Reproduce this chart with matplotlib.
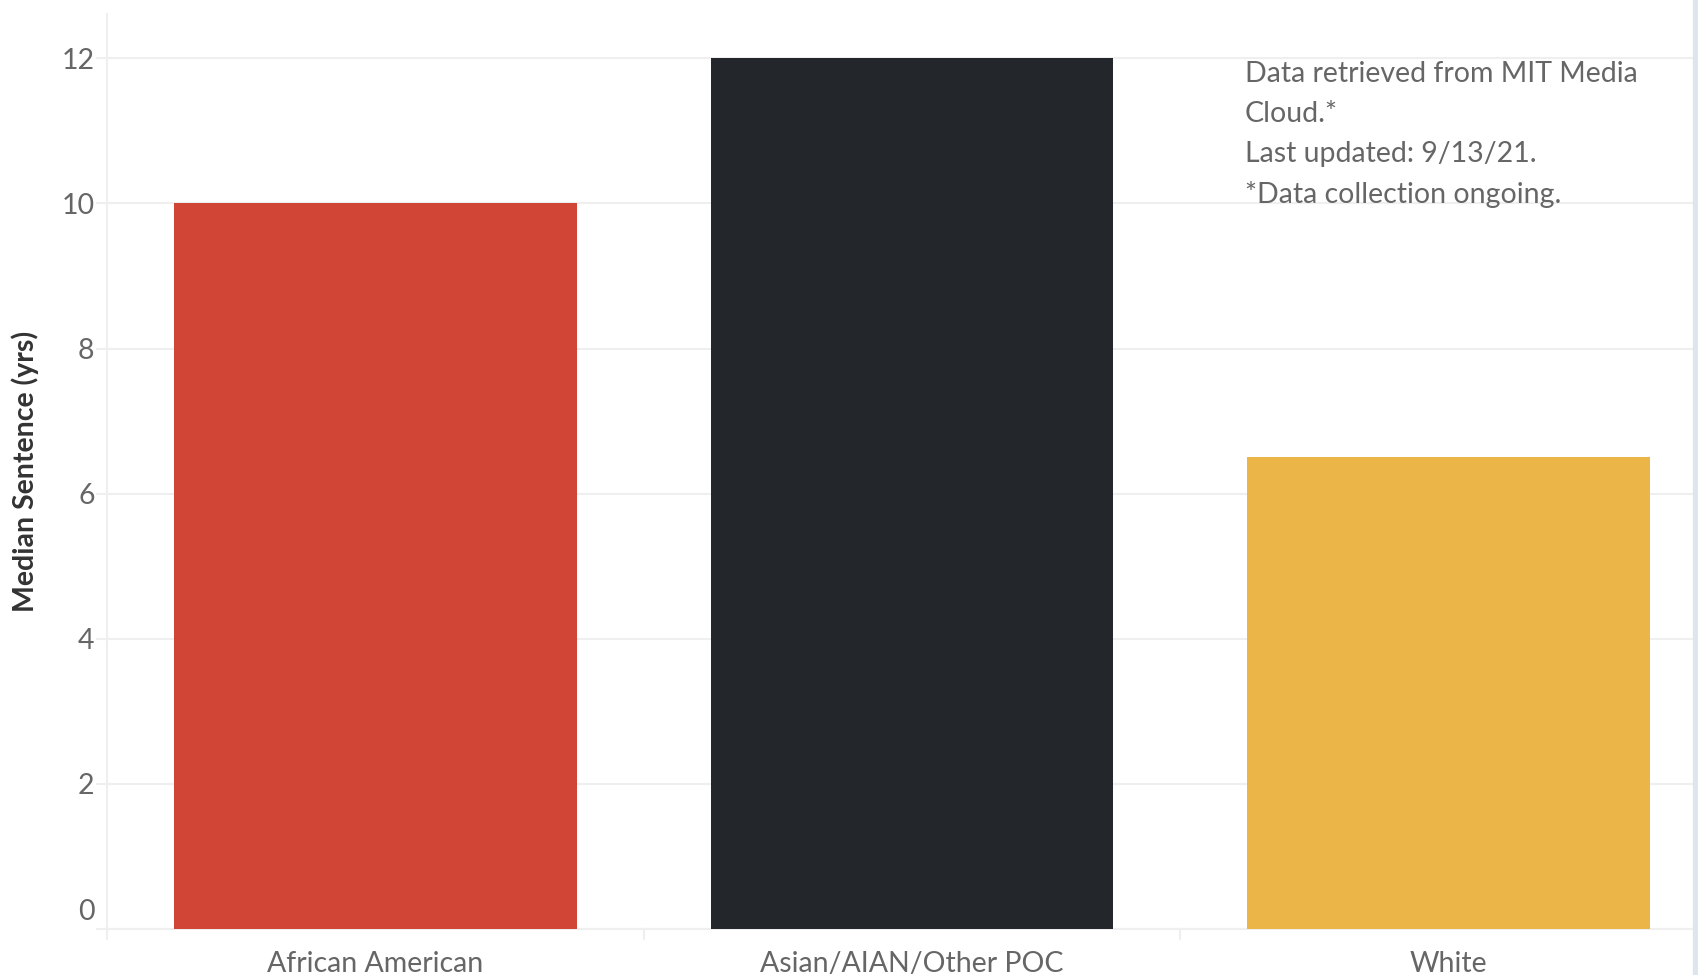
import matplotlib.pyplot as plt
from matplotlib.patches import Rectangle
from matplotlib.transforms import ScaledTranslation

categories = ["African American", "Asian/AIAN/Other POC", "White"]
median_sentence = [10.0, 12.0, 6.5]
bar_colors = ["#D04535", "#23262B", "#EBB647"]
y_ticks = [0, 2, 4, 6, 8, 10, 12]
note_lines = [
    "Data retrieved from MIT Media",
    "Cloud.*",
    "Last updated: 9/13/21.",
    "*Data collection ongoing.",
]

plt.rcParams["font.family"] = ["Lato", "DejaVu Sans"]
FS = 20.5

fig = plt.figure(figsize=(16.98, 9.75), dpi=100)
ax = fig.add_axes([107 / 1698, 1 - 929 / 975, 1610 / 1698, 915 / 975])

x = list(range(len(categories)))
ax.bar(x, median_sentence, width=0.75, color=bar_colors, zorder=3)

ax.set_xlim(-0.5, len(categories) - 0.5)
ax.set_ylim(0, 12.61)
ax.set_yticks(y_ticks)
ax.set_yticklabels([str(t) for t in y_ticks])
ax.yaxis.grid(True, color="#efefef", linewidth=1.5, zorder=0)
ax.tick_params(axis="y", length=8, color="#efefef", width=1.5,
               labelsize=FS, labelcolor="#666666", pad=1)
# Tableau pushes the zero label up to keep it inside the pane
zero_lbl = ax.get_yticklabels()[0]
zero_lbl.set_transform(zero_lbl.get_transform()
                       + ScaledTranslation(0, 20 / 100, fig.dpi_scale_trans))

ax.set_xticks(x)
ax.set_xticklabels(categories)
ax.tick_params(axis="x", length=0, labelsize=FS, labelcolor="#666666", pad=16)

for side in ["top", "right"]:
    ax.spines[side].set_visible(False)
for side in ["left", "bottom"]:
    ax.spines[side].set_color("#efefef")
    ax.spines[side].set_linewidth(1.5)

# category separators under the baseline
for sep in [-0.5, 0.5, 1.5]:
    ax.plot([sep, sep], [0, -0.14], color="#efefef", linewidth=1.5, clip_on=False)

ax.set_ylabel("Median Sentence (yrs)", fontsize=FS, fontweight="bold", color="#333333")
ax.yaxis.set_label_coords(-68 / 1610, 0.5)

for i, line in enumerate(note_lines):
    fig.text(1245 / 1698, 1 - (74 + 40 * i) / 975, line, fontsize=FS,
             color="#666666", va="center", ha="left")

# light strip at the right edge of the dashboard
fig.patches.append(Rectangle((1693 / 1698, 0), 5 / 1698, 1, transform=fig.transFigure,
                             color="#dde6ee", zorder=5))

fig.savefig("out.png", dpi=100)
